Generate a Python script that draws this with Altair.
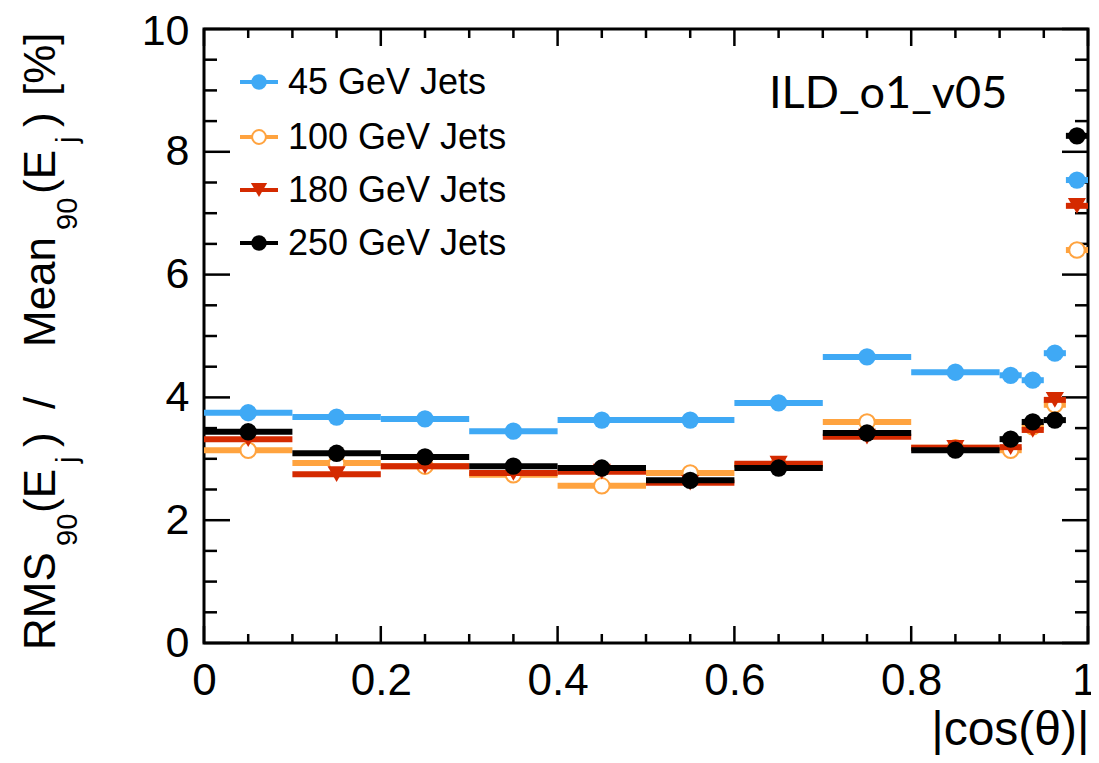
import altair as alt
import pandas as pd

# ---------------- data ----------------
bin_lo = [0.0, 0.1, 0.2, 0.3, 0.4, 0.5, 0.6, 0.7, 0.8, 0.9, 0.925, 0.95, 0.975]
bin_hi = [0.1, 0.2, 0.3, 0.4, 0.5, 0.6, 0.7, 0.8, 0.9, 0.925, 0.95, 0.975, 1.0]
series_names = ["45 GeV Jets", "100 GeV Jets", "180 GeV Jets", "250 GeV Jets"]
res_45 = [3.75, 3.68, 3.65, 3.45, 3.63, 3.63, 3.91, 4.66, 4.41, 4.36, 4.28, 4.72, 7.54]
res_100 = [3.14, 2.93, 2.88, 2.74, 2.56, 2.77, 2.90, 3.60, 3.18, 3.14, 3.52, 3.88, 6.40]
res_180 = [3.32, 2.75, 2.88, 2.77, 2.79, 2.61, 2.92, 3.36, 3.18, 3.19, 3.47, 3.96, 7.12]
res_250 = [3.44, 3.09, 3.03, 2.88, 2.85, 2.65, 2.85, 3.42, 3.14, 3.32, 3.60, 3.63, 8.26]
x_major_ticks = [0.0, 0.2, 0.4, 0.6, 0.8, 1.0]
x_minor_ticks = [0.05, 0.1, 0.15, 0.25, 0.3, 0.35, 0.45, 0.5, 0.55, 0.65, 0.7, 0.75, 0.85, 0.9, 0.95]
y_major_ticks = [0, 2, 4, 6, 8, 10]
y_minor_ticks = [0.5, 1, 1.5, 2.5, 3, 3.5, 4.5, 5, 5.5, 6.5, 7, 7.5, 8.5, 9, 9.5]

all_values = [res_45, res_100, res_180, res_250]

# ---------------- style ----------------
W, H = 884, 614
FONT = "Liberation Sans"
colors = ["#3fa9f5", "#ffa33f", "#d42a00", "#000000"]
shapes = ["circle", "circle", "triangle-down", "circle"]
filled = [True, False, True, True]
sizes = [300, 240, 330, 300]

xs = alt.Scale(domain=[0, 1], nice=False, zero=False)
ys = alt.Scale(domain=[0, 10], nice=False, zero=False)

X_AXIS = alt.Axis(
    values=x_major_ticks, format="~g", ticks=False, domain=False, grid=False,
    labelFont=FONT, labelFontSize=44, labelColor="black", labelPadding=16,
    labelFlush=False, labelOverlap=False,
    labelOffset={"condition": {"test": "datum.value >= 1", "value": -4}, "value": 0},
    title="|cos(θ)|", titleFont=FONT, titleFontSize=48, titleFontWeight="normal",
    titleColor="black", titleAnchor="end", titleAlign="right", titleBaseline="alphabetic",
    titleX=W + 1, titleY=101)
Y_AXIS = alt.Axis(
    values=y_major_ticks, ticks=False, domain=False, grid=False,
    labelFont=FONT, labelFontSize=43, labelColor="black", labelPadding=15,
    labelFlush=False, labelOverlap=False,
    labelOffset={"condition": {"test": "datum.value >= 10", "value": 2}, "value": 0},
    title=None)


def xq(field):
    return alt.X(field, type="quantitative", scale=xs, axis=X_AXIS)


def yq(field):
    return alt.Y(field, type="quantitative", scale=ys, axis=Y_AXIS)


layers = []

# inner ticks (ROOT style, on all four sides)
def tick_df(vals):
    return pd.DataFrame({"v": vals})

for vals, ln in [(x_major_ticks, 17), (x_minor_ticks, 9)]:
    layers.append(alt.Chart(tick_df(vals)).mark_rule(color="black", strokeWidth=2.5).encode(
        x=xq("v"), y=alt.value(H), y2=alt.value(H - ln)))
    layers.append(alt.Chart(tick_df(vals)).mark_rule(color="black", strokeWidth=2.5).encode(
        x=xq("v"), y=alt.value(0), y2=alt.value(ln)))
for vals, ln in [(y_major_ticks, 26), (y_minor_ticks, 13)]:
    layers.append(alt.Chart(tick_df(vals)).mark_rule(color="black", strokeWidth=2.5).encode(
        y=yq("v"), x=alt.value(0), x2=alt.value(ln)))
    layers.append(alt.Chart(tick_df(vals)).mark_rule(color="black", strokeWidth=2.5).encode(
        y=yq("v"), x=alt.value(W), x2=alt.value(W - ln)))

# data: horizontal bin-width bars + markers
for i, name in enumerate(series_names):
    df = pd.DataFrame({
        "lo": bin_lo, "hi": bin_hi, "val": all_values[i],
        "mid": [(a + b) / 2 for a, b in zip(bin_lo, bin_hi)],
        "series": name,
    })
    layers.append(alt.Chart(df).mark_rule(color=colors[i], strokeWidth=6).encode(
        x=xq("lo"), x2="hi:Q", y=yq("val")))
    if filled[i]:
        pm = alt.Chart(df).mark_point(shape=shapes[i], filled=True, fill=colors[i],
                                      color=colors[i], opacity=1, size=sizes[i], strokeWidth=0)
    else:
        pm = alt.Chart(df).mark_point(shape=shapes[i], filled=False, fill="white", fillOpacity=1,
                                      stroke=colors[i], opacity=1, size=sizes[i], strokeWidth=2)
    layers.append(pm.encode(x=xq("mid"), y=yq("val")))

# legend (manual, ROOT style)
leg_rows = [53, 108, 161, 214]
for i, name in enumerate(series_names):
    ldf = pd.DataFrame({"label": [name]})
    yy = leg_rows[i]
    layers.append(alt.Chart(ldf).mark_rule(color=colors[i], strokeWidth=4).encode(
        x=alt.value(36), x2=alt.value(74), y=alt.value(yy)))
    if filled[i]:
        lp = alt.Chart(ldf).mark_point(shape=shapes[i], filled=True, fill=colors[i],
                                       color=colors[i], opacity=1, size=sizes[i] * 0.8, strokeWidth=0)
    else:
        lp = alt.Chart(ldf).mark_point(shape=shapes[i], filled=False, fill="white", fillOpacity=1,
                                       stroke=colors[i], opacity=1, size=sizes[i] * 0.8, strokeWidth=2)
    layers.append(lp.encode(x=alt.value(55), y=alt.value(yy)))
    layers.append(alt.Chart(ldf).mark_text(font=FONT, fontSize=36, align="left", baseline="middle",
                                           color="black").encode(
        text="label:N", x=alt.value(84), y=alt.value(yy + 1)))

# detector label
layers.append(alt.Chart(pd.DataFrame({"t": ["ILD_o1_v05"]})).mark_text(
    font="Lato", fontSize=45, align="left", baseline="alphabetic", color="black").encode(
    text="t:N", x=alt.value(565), y=alt.value(79)))

# y-axis title with subscripts (rotated)
MAIN_X, SUB_X = -149, -127
title_parts = [
    ("RMS", 621, 44, MAIN_X), ("90", 517, 29, SUB_X), ("(E", 484, 44, MAIN_X),
    ("j", 434, 29, SUB_X), (")", 418, 44, MAIN_X), ("/", 380, 44, MAIN_X),
    ("Mean", 318, 44, MAIN_X), ("90", 201, 29, SUB_X), ("(E", 165, 44, MAIN_X),
    ("j", 114, 29, SUB_X), (")", 98, 44, MAIN_X), ("[%]", 67, 44, MAIN_X),
]
for txt, yy, fs, xx in title_parts:
    layers.append(alt.Chart(pd.DataFrame({"t": [txt]})).mark_text(
        font=FONT, fontSize=fs, angle=270, align="left", baseline="alphabetic", color="black").encode(
        text="t:N", x=alt.value(xx), y=alt.value(yy)))

chart = alt.layer(*layers).properties(
    width=W, height=H,
    autosize=alt.AutoSizeParams(type="none"),
    padding={"left": 196, "top": 21, "right": 3, "bottom": 112},
    background="white",
).configure_view(stroke="black", strokeWidth=3)

chart.save("out.html", embed_options={"renderer": "svg", "actions": False})
